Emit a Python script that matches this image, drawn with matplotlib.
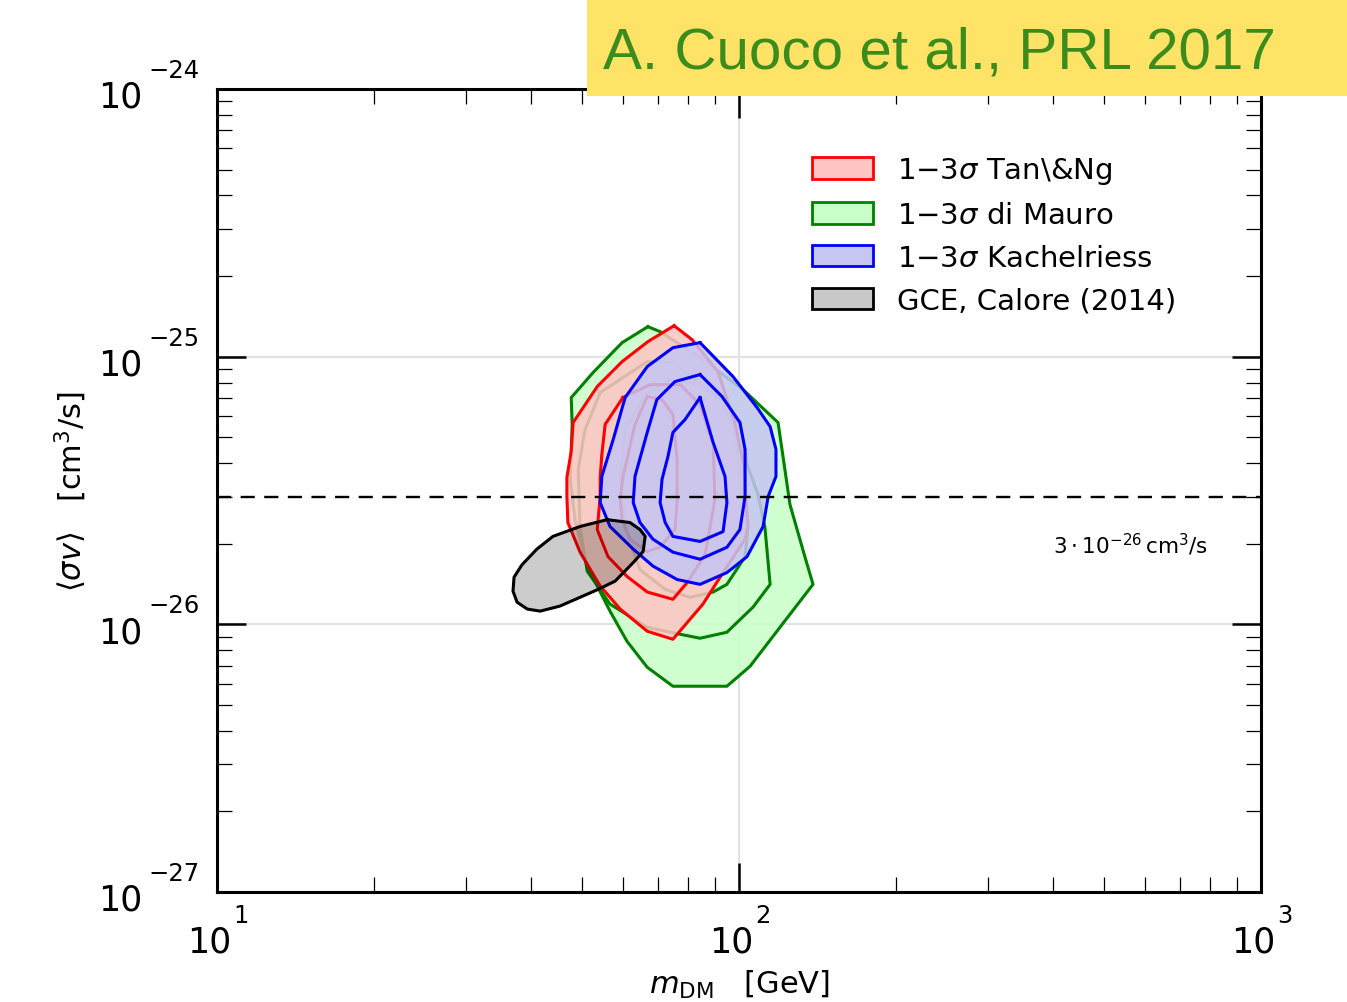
import matplotlib
matplotlib.use("Agg")
import matplotlib.pyplot as plt
from matplotlib.patches import Patch, Rectangle
import numpy as np

# Contour outlines: dark-matter mass [GeV] and <sigma v> in units of 1e-26 cm^3/s
# di Mauro (green), 3 sigma / 2 sigma / 1 sigma
mauro_3s_m = [66.9, 70.6, 84.2, 101.8, 118.8, 125.2, 133.8, 138.6, 119.8, 105.0, 94.8, 74.7,
              66.7, 61.0, 56.6, 53.7, 50.7, 48.5, 47.5, 47.9, 47.7, 52.5, 59.7]
mauro_3s_sv = [12.94, 12.40, 9.92, 7.53, 5.67, 2.80, 1.78, 1.41, 0.975, 0.697, 0.587, 0.587,
               0.691, 0.864, 1.12, 1.37, 1.75, 2.46, 3.48, 5.58, 7.03, 8.71, 11.28]
mauro_2s_m = [54.2, 66.7, 74.7, 78.8, 89.9, 100.4, 103.6, 108.7, 112.1, 114.7, 106.4, 94.8,
              84.2, 77.1, 66.7, 56.6, 51.2, 49.6, 49.2, 50.7]
mauro_2s_sv = [7.34, 9.58, 9.50, 8.79, 7.21, 5.72, 3.95, 3.06, 2.30, 1.41, 1.16, 0.934,
               0.887, 0.918, 0.975, 1.19, 1.58, 2.30, 3.79, 5.34]
mauro_1s_m = [73.8, 84.2, 92.0, 98.2, 101.3, 104.0, 102.7, 94.8, 89.2, 80.6, 72.2, 64.6,
              60.5, 59.2, 60.5, 66.1]
mauro_1s_sv = [8.21, 7.86, 6.91, 5.34, 3.06, 2.30, 1.79, 1.41, 1.32, 1.26, 1.35, 1.60,
               2.26, 3.48, 5.34, 7.21]

# Tan & Ng (red)
tanng_3s_m = [75.1, 81.3, 91.1, 98.2, 102.2, 104.0, 102.7, 93.2, 85.3, 74.7, 66.7, 59.2,
              54.2, 49.6, 47.0, 46.8, 46.8, 47.7, 48.1, 53.5, 59.7, 66.9]
tanng_3s_sv = [13.05, 11.57, 8.79, 5.67, 3.89, 2.32, 2.08, 1.56, 1.19, 0.879, 0.942, 1.14,
               1.39, 1.86, 2.40, 3.00, 3.54, 4.42, 5.67, 7.73, 9.58, 11.38]
tanng_2s_m = [59.9, 67.5, 77.1, 84.2, 89.2, 89.9, 86.1, 79.5, 74.7, 66.7, 61.0, 56.1,
              53.5, 54.2, 54.2, 54.6, 55.4]
tanng_2s_sv = [7.03, 7.86, 7.86, 6.62, 4.70, 2.93, 1.82, 1.43, 1.24, 1.32, 1.51, 1.79,
               2.26, 3.00, 3.54, 4.31, 5.58]
tanng_1s_m = [66.7, 71.2, 74.7, 76.1, 76.1, 75.4, 70.6, 66.7, 61.8, 59.7, 59.2, 59.9, 63.2]
tanng_1s_sv = [7.09, 6.91, 6.08, 4.13, 2.88, 2.26, 1.94, 1.87, 2.08, 2.46, 2.93, 3.54, 5.58]

# Kachelriess (blue)
kach_3s_m = [84.2, 97.4, 108.3, 114.7, 117.7, 117.7, 113.7, 111.2, 103.6, 94.8, 84.2, 76.1,
             68.4, 62.7, 56.6, 54.2, 54.6, 57.4, 60.5, 66.7, 74.7]
kach_3s_sv = [11.28, 8.42, 6.45, 5.48, 4.50, 3.57, 3.00, 2.32, 1.79, 1.56, 1.41, 1.47,
              1.65, 1.91, 2.32, 2.85, 3.57, 4.90, 7.03, 9.18, 10.80]
kach_2s_m = [84.2, 92.8, 100.4, 102.7, 102.7, 100.4, 94.8, 84.2, 74.7, 68.4, 64.6, 62.7,
             63.2, 66.7, 69.6, 75.4]
kach_2s_sv = [8.57, 7.09, 5.67, 4.50, 3.00, 2.26, 1.94, 1.75, 1.86, 2.08, 2.40, 2.85,
              3.57, 5.21, 6.91, 8.07]
kach_1s_m = [84.2, 89.2, 94.0, 94.8, 93.2, 84.2, 74.7, 72.2, 70.6, 71.2, 73.1, 74.7, 78.8]
kach_1s_sv = [7.03, 4.78, 3.57, 2.85, 2.22, 2.04, 2.13, 2.40, 2.85, 3.48, 4.24, 5.21, 5.82]

# Galactic Centre Excess region, Calore (2014)
gce_m = [55.9, 61.8, 64.6, 66.1, 65.5, 62.7, 57.9, 53.7, 45.4, 41.6, 39.3, 37.56, 36.9,
         37.07, 38.4, 41.0, 44.0, 49.6]
gce_sv = [2.46, 2.40, 2.26, 2.13, 1.87, 1.70, 1.45, 1.35, 1.17, 1.12, 1.14, 1.21, 1.33,
          1.50, 1.67, 1.91, 2.13, 2.32]

thermal_sv = 3e-26
UNIT = 1e-26

# Axis decades and their exponents
x_decades = [10, 100, 1000]
x_exponents = [1, 2, 3]
y_decades = [1e-27, 1e-26, 1e-25, 1e-24]
y_exponents = [-27, -26, -25, -24]

labels = [r'1$-$3$\sigma$ Tan\&Ng', r'1$-$3$\sigma$ di Mauro',
          r'1$-$3$\sigma$ Kachelriess', 'GCE, Calore (2014)']

fig = plt.figure(figsize=(13.47, 10.03), dpi=100)
ax = fig.add_axes([0.1611, 0.1097, 0.7751, 0.8006])
ax.set_xscale('log')
ax.set_yscale('log')
ax.set_xlim(10, 1000)
ax.set_ylim(1e-27, 1e-24)
ax.set_xticks(x_decades)
ax.set_yticks(y_decades)


def closed(m, sv):
    m = list(m) + [m[0]]
    sv = [v * UNIT for v in sv] + [sv[0] * UNIT]
    return np.array(m), np.array(sv)


def draw_set(outer, middle, inner, line_c, fill_c, z):
    xo, yo = closed(*outer)
    ax.fill(xo, yo, color=fill_c, alpha=0.85, lw=0, zorder=z)
    for cont in (outer, middle, inner):
        x, y = closed(*cont)
        ax.plot(x, y, color=line_c, lw=2.2, zorder=z + 0.1)


draw_set((mauro_3s_m, mauro_3s_sv), (mauro_2s_m, mauro_2s_sv), (mauro_1s_m, mauro_1s_sv),
         'green', '#c8ffc8', 3)
draw_set((tanng_3s_m, tanng_3s_sv), (tanng_2s_m, tanng_2s_sv), (tanng_1s_m, tanng_1s_sv),
         'red', '#ffc4c4', 4)
draw_set((kach_3s_m, kach_3s_sv), (kach_2s_m, kach_2s_sv), (kach_1s_m, kach_1s_sv),
         'blue', '#c6c6f3', 5)

xg, yg = closed(gce_m, gce_sv)
ax.fill(xg, yg, color='black', alpha=0.2, lw=0, zorder=6)
ax.plot(xg, yg, color='black', lw=2.2, zorder=6.1)

ax.axhline(thermal_sv, color='black', lw=1.7, ls=(0, (6, 4)), zorder=7)
ax.text(400, 2.0e-26, r'$3\cdot10^{-26}\,\mathrm{cm}^3/\mathrm{s}$', fontsize=15.5,
        ha='left', va='center')

ax.grid(which='major', color='#e3e3e3', lw=1.6)
ax.set_axisbelow(True)
for s in ax.spines.values():
    s.set_linewidth(2.2)
    s.set_zorder(10)
ax.tick_params(which='both', direction='in', top=True, right=True,
               labelbottom=False, labelleft=False)
ax.tick_params(which='major', length=21, width=1.8)
ax.tick_params(which='minor', length=11, width=0.9)

# Decade labels: "10" with a high-set exponent
BASE_FS = 25
EXP_FS = 17.5
for v, e in zip(x_decades, x_exponents):
    ax.annotate('10', xy=(v, 0), xycoords=('data', 'axes fraction'),
                xytext=(14, -60), textcoords='offset pixels',
                ha='right', va='baseline', fontsize=BASE_FS, annotation_clip=False)
    ax.annotate(str(e), xy=(v, 0), xycoords=('data', 'axes fraction'),
                xytext=(16, -30), textcoords='offset pixels',
                ha='left', va='baseline', fontsize=EXP_FS, annotation_clip=False)
for v, e in zip(y_decades, y_exponents):
    ax.annotate('10', xy=(0, v), xycoords=('axes fraction', 'data'),
                xytext=(-75, -18), textcoords='offset pixels',
                ha='right', va='baseline', fontsize=BASE_FS, annotation_clip=False)
    ax.annotate(str(e).replace('-', '\u2212'), xy=(0, v),
                xycoords=('axes fraction', 'data'),
                xytext=(-69, 12), textcoords='offset pixels',
                ha='left', va='baseline', fontsize=EXP_FS, annotation_clip=False)

ax.set_xlabel(r'$m_{\rm DM}$   [GeV]', fontsize=22)
ax.xaxis.set_label_coords(0.5, -0.094)
ax.set_ylabel(r'$\langle\sigma v\rangle$   [cm$^3$/s]', fontsize=22)
ax.yaxis.set_label_coords(-0.1225, 0.5)

handles = [Patch(facecolor='#ffc4c4', edgecolor='red', lw=2),
           Patch(facecolor='#c8ffc8', edgecolor='green', lw=2),
           Patch(facecolor='#c6c6f3', edgecolor='blue', lw=2),
           Patch(facecolor='#c8c8c8', edgecolor='black', lw=2)]
ax.legend(handles, labels, loc='upper left', bbox_to_anchor=(0.570, 0.9175),
          frameon=False, fontsize=21, handlelength=2.09, handleheight=0.75,
          handletextpad=0.82, labelspacing=0.51, borderpad=0, borderaxespad=0)

fig.patches.append(Rectangle((587 / 1347, 1 - 97 / 1003), 1 - 587 / 1347, 97 / 1003,
                             transform=fig.transFigure, facecolor='#ffe366',
                             edgecolor='none', zorder=5))
fig.text(603 / 1347, 1 - 69 / 1003, 'A. Cuoco et al., PRL 2017', fontsize=42,
         color='#3b8c1c', family='Liberation Sans', va='baseline', zorder=6)

fig.savefig('out.png', dpi=100)
